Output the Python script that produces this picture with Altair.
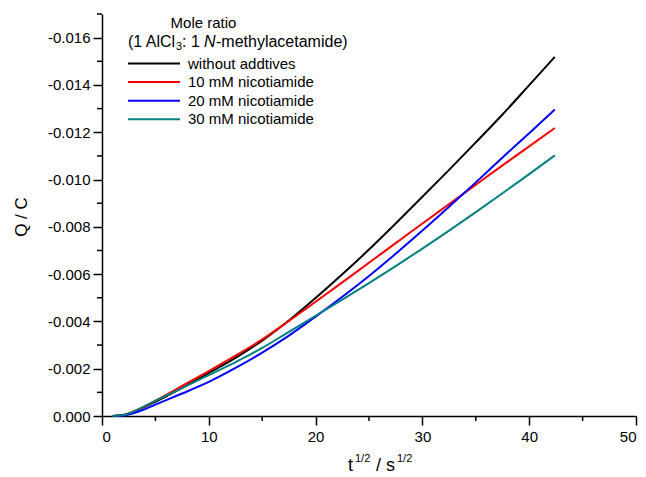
import altair as alt
import pandas as pd

# ---- data (Q/C magnitudes in units of 0.001 C; sign applied below) ----
t_half = [1, 2, 3.5, 5, 7.5, 10, 12.5, 15, 17.5, 20, 22.5, 25, 27.5, 30, 32.5, 35, 37.5, 40, 42.4]
q_without = [0, 0.04, 0.28, 0.60, 1.19, 1.82, 2.46, 3.19, 4.04, 4.99, 5.99, 7.04, 8.14, 9.27, 10.41, 11.57, 12.75, 13.99, 15.19]
q_10mM = [0, 0.04, 0.30, 0.65, 1.27, 1.90, 2.55, 3.24, 4.02, 4.83, 5.65, 6.48, 7.31, 8.14, 8.96, 9.78, 10.60, 11.40, 12.18]
q_20mM = [0, 0.02, 0.20, 0.48, 0.95, 1.44, 2.03, 2.68, 3.40, 4.20, 5.04, 5.92, 6.86, 7.84, 8.85, 9.88, 10.93, 11.96, 12.96]
q_30mM = [0, 0.04, 0.30, 0.64, 1.18, 1.73, 2.28, 2.88, 3.56, 4.24, 4.92, 5.62, 6.34, 7.08, 7.84, 8.62, 9.42, 10.23, 11.02]

series_names = ["without addtives", "10 mM nicotiamide", "20 mM nicotiamide", "30 mM nicotiamide"]
series_colors = ["#000000", "#ff0000", "#0000ff", "#008080"]
series_values = [q_without, q_10mM, q_20mM, q_30mM]

x_major = [0, 10, 20, 30, 40, 50]
x_minor = [5, 15, 25, 35, 45]
y_major = [0, -0.002, -0.004, -0.006, -0.008, -0.010, -0.012, -0.014, -0.016]
y_minor = [-0.001, -0.003, -0.005, -0.007, -0.009, -0.011, -0.013, -0.015, -0.017]

W, H = 534, 402
FONT = "Liberation Sans"

x_scale = alt.Scale(domain=[0, 50], nice=False, zero=False)
y_scale = alt.Scale(domain=[-0.017, 0], reverse=True, nice=False, zero=False)
color_scale = alt.Scale(domain=series_names, range=series_colors)

x_axis = alt.Axis(values=x_major, title=None, format="d", grid=False,
                  tickSize=9, labelPadding=4, labelFontSize=15, labelFont=FONT)
y_axis = alt.Axis(values=y_major, title=None, grid=False, tickSize=9, labelPadding=3,
                  labelFontSize=15, labelFont=FONT,
                  labelExpr="(datum.value < 0 ? '-' : '') + format(abs(datum.value), '.3f')")

layers = []
for name, vals in zip(series_names, series_values):
    d = pd.DataFrame({"x": t_half, "q": [-v / 1000 for v in vals], "series": name})
    layers.append(alt.Chart(d).mark_line(strokeWidth=2, interpolate="monotone").encode(
        x=alt.X("x:Q", scale=x_scale, axis=x_axis),
        y=alt.Y("q:Q", scale=y_scale, axis=y_axis),
        color=alt.Color("series:N", scale=color_scale, legend=None),
    ))

# minor ticks
y_minor_layer = alt.Chart(pd.DataFrame({"q": y_minor})).mark_rule(color="black", strokeWidth=1.5).encode(
    y=alt.Y("q:Q", scale=y_scale, axis=y_axis), x=alt.value(-5), x2=alt.value(0))
x_minor_layer = alt.Chart(pd.DataFrame({"x": x_minor})).mark_rule(color="black", strokeWidth=1.5).encode(
    x=alt.X("x:Q", scale=x_scale, axis=x_axis), y=alt.value(H), y2=alt.value(H + 5))
layers += [y_minor_layer, x_minor_layer]


def txt(s, x, y, size=15, align="left", style="normal", angle=None, baseline="middle"):
    kw = dict(fontSize=size, font=FONT, align=align, baseline=baseline, color="black", fontStyle=style)
    if angle is not None:
        kw["angle"] = angle
    return alt.Chart(pd.DataFrame({"label": [s]})).mark_text(**kw).encode(
        text="label:N", x=alt.value(x), y=alt.value(y))


# axis titles
layers.append(txt("Q / C", -80, 203, size=17, align="center", angle=270))
layers.append(txt("t", 246, 457, size=18, baseline="alphabetic"))
layers.append(txt("1/2", 253, 448, size=11, baseline="alphabetic"))
layers.append(txt("/ s", 274, 457, size=18, baseline="alphabetic"))
layers.append(txt("1/2", 295, 448, size=11, baseline="alphabetic"))

# legend title
layers.append(txt("Mole ratio", 101.5, 8.7, size=15, align="center"))
layers.append(txt("(1 AlCl", 26, 27.7, size=16))
layers.append(txt("3", 74, 32.7, size=11))
layers.append(txt(": 1 ", 80, 27.7, size=16))
layers.append(txt("N", 102, 27.7, size=16, style="italic"))
layers.append(txt("-methylacetamide)", 114, 27.7, size=16))

# legend entries
for i, (name, col) in enumerate(zip(series_names, series_colors)):
    yy = 49.5 + 18.6 * i
    layers.append(alt.Chart(pd.DataFrame({"series": [name]})).mark_rule(strokeWidth=2, color=col).encode(
        x=alt.value(26), x2=alt.value(78), y=alt.value(yy)))
    layers.append(txt(name, 86, yy, size=15))

chart = alt.layer(*layers).properties(
    width=W, height=H,
    autosize=alt.AutoSizeParams(type="none"),
    padding={"left": 102, "top": 14, "right": 10, "bottom": 61},
    background="white",
).configure_view(stroke=None).configure_axis(
    domainColor="black", domainWidth=1.5, tickColor="black", tickWidth=1.5,
    labelColor="black",
)

chart.save("out.html", embed_options={"renderer": "svg", "actions": False})
